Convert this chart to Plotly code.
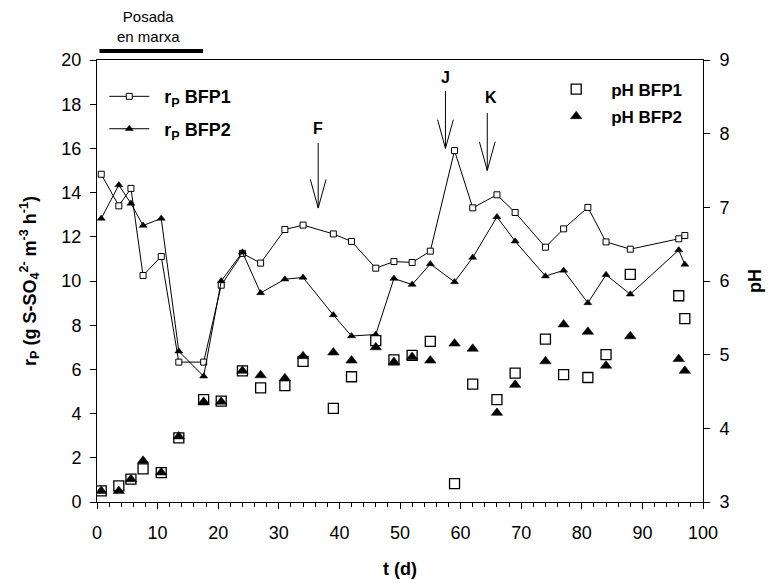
import plotly.graph_objects as go

# ---- data ----
t = [0.7, 3.6, 5.6, 7.6, 10.6, 13.5, 17.6, 20.5, 24.0, 27.0, 31.0, 34.0, 39.0, 42.0, 46.0,
     49.0, 52.0, 55.0, 59.0, 62.0, 66.0, 69.0, 74.0, 77.0, 81.0, 84.0, 88.0, 96.0, 97.0]
rp_bfp1 = [14.83, 13.40, 14.19, 10.25, 11.11, 6.33, 6.33, 9.81, 11.25, 10.81, 12.33, 12.53, 12.13, 11.79, 10.58,
           10.88, 10.84, 11.35, 15.90, 13.31, 13.90, 13.10, 11.53, 12.36, 13.33, 11.77, 11.44, 11.91, 12.06]
rp_bfp2 = [12.83, 14.34, 13.51, 12.51, 12.83, 6.82, 5.69, 10.00, 11.30, 9.46, 10.08, 10.16, 8.46, 7.51, 7.58,
           10.11, 9.84, 10.77, 9.96, 11.06, 12.90, 11.80, 10.22, 10.48, 9.01, 10.28, 9.40, 11.40, 10.75]
ph_bfp1 = [3.15, 3.22, 3.31, 3.45, 3.40, 3.87, 4.39, 4.37, 4.78, 4.55, 4.58, 4.91, 4.27, 4.70, 5.19,
           4.93, 4.99, 5.18, 3.25, 4.60, 4.39, 4.75, 5.21, 4.73, 4.69, 5.00, 6.09, 5.80, 5.49]
ph_bfp2 = [3.15, 3.15, 3.31, 3.56, 3.40, 3.89, 4.36, 4.36, 4.78, 4.72, 4.68, 4.98, 5.03, 4.92, 5.10,
           4.90, 4.97, 4.92, 5.15, 5.08, 4.21, 4.59, 4.91, 5.41, 5.31, 4.85, 5.25, 4.94, 4.78]

series_names = ["<b>&nbsp;&nbsp;r<sub>P</sub> BFP1</b>", "<b>&nbsp;&nbsp;r<sub>P</sub> BFP2</b>",
                "<b>pH BFP1</b>", "<b>pH BFP2</b>"]

# event arrows: label, t, shaft top, tip (left-axis units), label t, label y
arrow_labels = ["F", "J", "K"]
arrow_t = [36.5, 57.5, 64.4]
arrow_top = [16.24, 18.6, 17.6]
arrow_tip = [13.3, 16.0, 15.0]
label_t = [36.5, 57.5, 65.0]
label_y = [16.9, 19.2, 18.3]

FONT = "Liberation Sans, Arial, sans-serif"

fig = go.Figure()

fig.add_trace(go.Scatter(
    x=t, y=rp_bfp1, name=series_names[0], mode="lines+markers",
    line=dict(color="black", width=1),
    marker=dict(symbol="square", size=6, color="white", line=dict(color="black", width=1)),
    legend="legend", legendgroup="a"))
fig.add_trace(go.Scatter(
    x=t, y=rp_bfp2, name=series_names[1], mode="lines+markers",
    line=dict(color="black", width=1),
    marker=dict(symbol="triangle-up", size=7, color="black", line=dict(color="black", width=0.5)),
    legend="legend", legendgroup="b"))
fig.add_trace(go.Scatter(
    x=t, y=ph_bfp1, name=series_names[2], mode="markers", yaxis="y2",
    marker=dict(symbol="square", size=10, color="white", line=dict(color="black", width=1.3)),
    legend="legend2", legendgroup="c"))
fig.add_trace(go.Scatter(
    x=t, y=ph_bfp2, name=series_names[3], mode="markers", yaxis="y2",
    marker=dict(symbol="triangle-up", size=10, color="black", line=dict(color="black", width=0.5)),
    legend="legend2", legendgroup="d"))

shapes = []
annotations = []
for lab, xa, y0, y1, lx, ly in zip(arrow_labels, arrow_t, arrow_top, arrow_tip, label_t, label_y):
    shapes.append(dict(type="line", xref="x", yref="y", x0=xa, x1=xa, y0=y0, y1=y1,
                       line=dict(color="black", width=1)))
    shapes.append(dict(type="path", xref="x", yref="y",
                       path=f"M {xa-1.3},{y1+1.3} L {xa},{y1} L {xa+1.3},{y1+1.3}",
                       line=dict(color="black", width=1)))
    annotations.append(dict(text=f"<b>{lab}</b>", x=lx, y=ly, xref="x", yref="y",
                            xanchor="center", yanchor="middle",
                            showarrow=False, font=dict(family=FONT, size=16, color="black")))

# "Posada en marxa" start-up bar above the plot
shapes.append(dict(type="line", xref="paper", yref="paper", x0=0.004, x1=0.175, y0=1.0204, y1=1.0204,
                   line=dict(color="black", width=4)))
annotations.append(dict(text="Posada<br>en marxa", x=0.085, y=1.076, xref="paper", yref="paper",
                        xanchor="center", yanchor="middle",
                        showarrow=False, font=dict(family=FONT, size=15, color="black")))

axis_common = dict(showline=True, linecolor="black", linewidth=1, showgrid=False, zeroline=False,
                   ticks="outside", tickcolor="black", ticklen=6, tickwidth=1,
                   tickfont=dict(family=FONT, size=18, color="black"))

fig.update_layout(
    width=774, height=585,
    margin=dict(l=97, r=71, t=60, b=83, autoexpand=False),
    paper_bgcolor="white", plot_bgcolor="white",
    font=dict(family=FONT, color="black"),
    xaxis=dict(range=[0, 100], dtick=10, mirror=True, ticklabelstandoff=8,
               minor=dict(dtick=2, ticks="outside", ticklen=4, tickcolor="black"),
               title=dict(text="<b>t (d)</b>", font=dict(family=FONT, size=18), standoff=20),
               **axis_common),
    yaxis=dict(range=[0, 20], dtick=2, ticklabelstandoff=5,
               title=dict(text="<b>r<sub>P</sub> (g S-SO<sub>4</sub><sup>2-</sup> m<sup>-3</sup> h<sup>-1</sup>)</b>",
                          font=dict(family=FONT, size=18), standoff=20),
               **axis_common),
    yaxis2=dict(range=[3, 9], dtick=1, overlaying="y", side="right", ticklabelstandoff=6,
                title=dict(text="<b>pH</b>", font=dict(family=FONT, size=18), standoff=19),
                **axis_common),
    legend=dict(x=0.012, y=0.959, xanchor="left", yanchor="top", bgcolor="rgba(0,0,0,0)",
                font=dict(family=FONT, size=18, color="black"), itemwidth=40, tracegroupgap=6,
                traceorder="grouped"),
    legend2=dict(x=0.733, y=0.974, xanchor="left", yanchor="top", bgcolor="rgba(0,0,0,0)",
                 font=dict(family=FONT, size=17, color="black"), itemwidth=60, tracegroupgap=2,
                 traceorder="grouped"),
    shapes=shapes, annotations=annotations,
)

fig.write_html("out.html")
